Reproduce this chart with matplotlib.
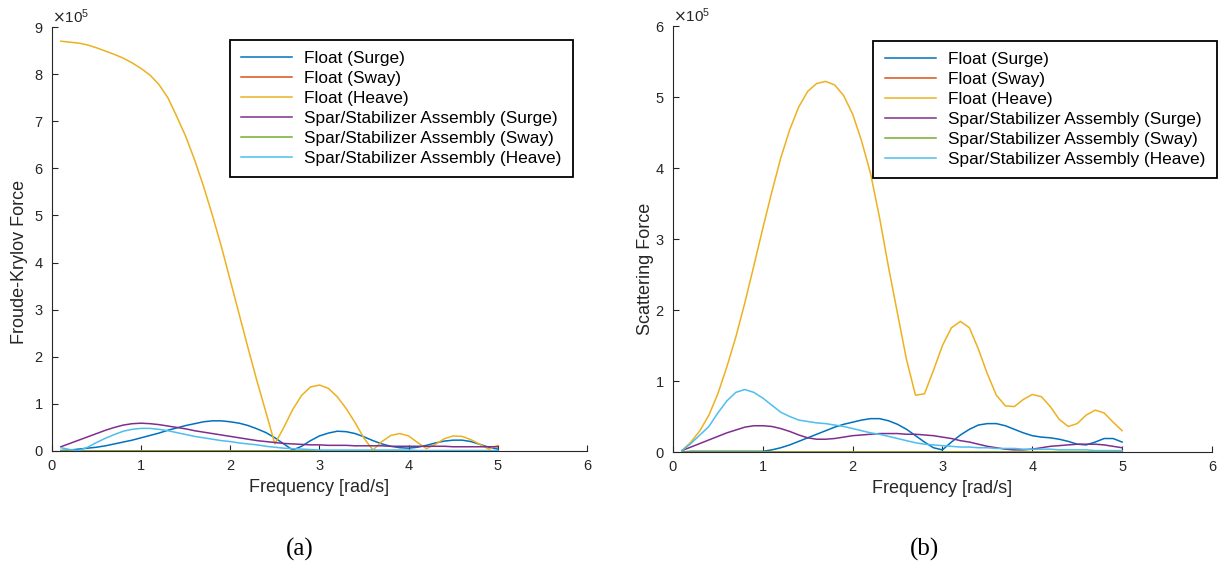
import numpy as np
import matplotlib
matplotlib.use("Agg")
import matplotlib.pyplot as plt
from matplotlib.ticker import ScalarFormatter

plt.rcParams['font.family'] = ['Liberation Sans', 'DejaVu Sans']

# ---------------- data (values in units of 1e5) ----------------
freq = [round(0.1 * i, 1) for i in range(1, 51)]  # rad/s, 0.1 ... 5.0

series_labels = ["Float (Surge)", "Float (Sway)", "Float (Heave)",
                 "Spar/Stabilizer Assembly (Surge)", "Spar/Stabilizer Assembly (Sway)",
                 "Spar/Stabilizer Assembly (Heave)"]
series_colors = ["#0072BD", "#D95319", "#EDB120", "#7E2F8E", "#77AC30", "#4DBEEE"]

# (a) Froude-Krylov force
fk_float_surge = [0.01, 0.02, 0.04, 0.06, 0.08, 0.11, 0.15, 0.19, 0.23, 0.28,
                  0.33, 0.38, 0.44, 0.49, 0.54, 0.58, 0.62, 0.64, 0.64, 0.62,
                  0.59, 0.54, 0.47, 0.39, 0.28, 0.15, 0.02, 0.10, 0.22, 0.32,
                  0.38, 0.42, 0.41, 0.37, 0.30, 0.22, 0.15, 0.10, 0.07, 0.06,
                  0.08, 0.12, 0.17, 0.21, 0.23, 0.23, 0.20, 0.14, 0.08, 0.04]
fk_float_sway = [0.0] * 50
fk_float_heave = [8.70, 8.68, 8.66, 8.62, 8.56, 8.49, 8.42, 8.34, 8.24, 8.12,
                  7.98, 7.78, 7.50, 7.10, 6.68, 6.18, 5.62, 5.00, 4.34, 3.62,
                  2.90, 2.18, 1.48, 0.82, 0.15, 0.50, 0.88, 1.18, 1.36, 1.40,
                  1.33, 1.15, 0.90, 0.60, 0.27, 0.02, 0.20, 0.33, 0.37, 0.32,
                  0.18, 0.05, 0.14, 0.26, 0.32, 0.31, 0.24, 0.14, 0.04, 0.12]
fk_spar_surge = [0.09, 0.16, 0.23, 0.30, 0.37, 0.44, 0.50, 0.55, 0.58, 0.59,
                 0.58, 0.56, 0.53, 0.50, 0.47, 0.43, 0.40, 0.37, 0.34, 0.31,
                 0.28, 0.25, 0.22, 0.20, 0.18, 0.16, 0.15, 0.14, 0.13, 0.13,
                 0.12, 0.12, 0.12, 0.11, 0.11, 0.11, 0.11, 0.10, 0.10, 0.10,
                 0.10, 0.10, 0.10, 0.10, 0.09, 0.09, 0.09, 0.09, 0.09, 0.09]
fk_spar_sway = [0.0] * 50
fk_spar_heave = [0.07, 0.03, 0.01, 0.08, 0.18, 0.27, 0.35, 0.42, 0.46, 0.48,
                 0.48, 0.46, 0.43, 0.39, 0.35, 0.31, 0.28, 0.25, 0.22, 0.20,
                 0.17, 0.15, 0.13, 0.10, 0.08, 0.06, 0.05, 0.04, 0.03, 0.02,
                 0.02, 0.02, 0.02, 0.02, 0.02, 0.02, 0.02, 0.02, 0.02, 0.02,
                 0.01, 0.01, 0.01, 0.01, 0.01, 0.01, 0.01, 0.01, 0.01, 0.01]

# (b) Scattering force
sc_float_surge = [0.00, 0.01, 0.01, 0.01, 0.01, 0.01, 0.01, 0.01, 0.01, 0.01,
                  0.03, 0.06, 0.10, 0.15, 0.20, 0.25, 0.30, 0.35, 0.39, 0.42,
                  0.45, 0.47, 0.47, 0.44, 0.39, 0.32, 0.23, 0.14, 0.06, 0.03,
                  0.14, 0.24, 0.32, 0.38, 0.40, 0.40, 0.37, 0.32, 0.27, 0.23,
                  0.21, 0.20, 0.18, 0.15, 0.11, 0.10, 0.14, 0.19, 0.19, 0.14]
sc_float_sway = [0.0] * 50
sc_float_heave = [0.02, 0.14, 0.30, 0.52, 0.82, 1.20, 1.62, 2.10, 2.62, 3.15,
                  3.66, 4.14, 4.54, 4.86, 5.08, 5.19, 5.22, 5.17, 5.02, 4.76,
                  4.38, 3.92, 3.30, 2.60, 1.95, 1.30, 0.80, 0.82, 1.15, 1.50,
                  1.75, 1.84, 1.75, 1.45, 1.10, 0.80, 0.65, 0.64, 0.74, 0.81,
                  0.78, 0.64, 0.46, 0.36, 0.40, 0.52, 0.59, 0.55, 0.42, 0.30]
sc_spar_surge = [0.02, 0.07, 0.12, 0.17, 0.22, 0.27, 0.31, 0.35, 0.37, 0.37,
                 0.36, 0.33, 0.29, 0.24, 0.20, 0.18, 0.18, 0.19, 0.21, 0.23,
                 0.24, 0.25, 0.26, 0.26, 0.26, 0.25, 0.25, 0.24, 0.23, 0.21,
                 0.19, 0.16, 0.14, 0.11, 0.08, 0.06, 0.04, 0.03, 0.03, 0.04,
                 0.06, 0.08, 0.09, 0.10, 0.11, 0.11, 0.11, 0.10, 0.08, 0.06]
sc_spar_sway = [0.0] * 50
sc_spar_heave = [0.02, 0.12, 0.24, 0.36, 0.55, 0.72, 0.84, 0.88, 0.84, 0.76,
                 0.66, 0.56, 0.50, 0.45, 0.43, 0.41, 0.40, 0.38, 0.36, 0.33,
                 0.30, 0.27, 0.25, 0.22, 0.19, 0.16, 0.13, 0.11, 0.10, 0.09,
                 0.08, 0.07, 0.07, 0.06, 0.06, 0.05, 0.05, 0.05, 0.04, 0.04,
                 0.04, 0.04, 0.03, 0.03, 0.03, 0.03, 0.02, 0.02, 0.02, 0.02]

x_ticks = [0, 1, 2, 3, 4, 5, 6]
fk_yticks = [0, 1, 2, 3, 4, 5, 6, 7, 8, 9]
sc_yticks = [0, 1, 2, 3, 4, 5, 6]
SCALE = 1e5

fk_series = [fk_float_surge, fk_float_sway, fk_float_heave,
             fk_spar_surge, fk_spar_sway, fk_spar_heave]
sc_series = [sc_float_surge, sc_float_sway, sc_float_heave,
             sc_spar_surge, sc_spar_sway, sc_spar_heave]

# ---------------- figure ----------------
fig = plt.figure(figsize=(12.2, 5.69), dpi=100)
axL = fig.add_axes([0.0426, 0.2074, 0.4385, 0.7450])
axR = fig.add_axes([0.5516, 0.2056, 0.4418, 0.7487])

AXC = '#262626'

def style(ax, series, yticks, ylabel, ylabel_xy, leg_anchor):
    for vals, lab, col in zip(series, series_labels, series_colors):
        ax.plot(freq, np.array(vals) * SCALE, color=col, lw=1.1, label=lab)
    ax.set_xlim(0, 6)
    ax.set_ylim(0, yticks[-1] * SCALE)
    ax.set_xticks(x_ticks)
    ax.set_yticks(np.array(yticks) * SCALE)
    fmt = ScalarFormatter(useMathText=True)
    fmt.set_powerlimits((0, 0))
    ax.yaxis.set_major_formatter(fmt)
    ax.yaxis.get_offset_text().set_fontsize(11)
    ax.yaxis.get_offset_text().set_color(AXC)
    for s in ['top', 'right']:
        ax.spines[s].set_visible(False)
    for s in ['left', 'bottom']:
        ax.spines[s].set_color(AXC)
        ax.spines[s].set_linewidth(0.8)
    ax.tick_params(direction='in', length=4, width=0.8, colors=AXC,
                   labelsize=10.5, pad=6)
    ax.set_xlabel("Frequency [rad/s]", fontsize=13, color=AXC, labelpad=4)
    ax.set_ylabel(ylabel, fontsize=13, color=AXC)
    ax.yaxis.set_label_coords(*ylabel_xy)
    leg = ax.legend(loc='upper right', bbox_to_anchor=leg_anchor, fontsize=12.4,
                    frameon=True, fancybox=False, edgecolor='black',
                    handlelength=3.0, handletextpad=0.7, labelspacing=0.28,
                    borderpad=0.65, borderaxespad=0)
    leg.get_frame().set_linewidth(1.3)
    leg.get_frame().set_alpha(1)

style(axL, fk_series, fk_yticks, "Froude-Krylov Force", (-0.045, 0.447), (0.974, 0.969))
style(axR, sc_series, sc_yticks, "Scattering Force", (-0.036, 0.43), (1.009, 0.965))

fig.text(0.246, 0.035, "(a)", fontsize=18, family=['Liberation Serif'],
         ha='center', va='center')
fig.text(0.758, 0.035, "(b)", fontsize=18, family=['Liberation Serif'],
         ha='center', va='center')

fig.savefig("out.png", dpi=100)
